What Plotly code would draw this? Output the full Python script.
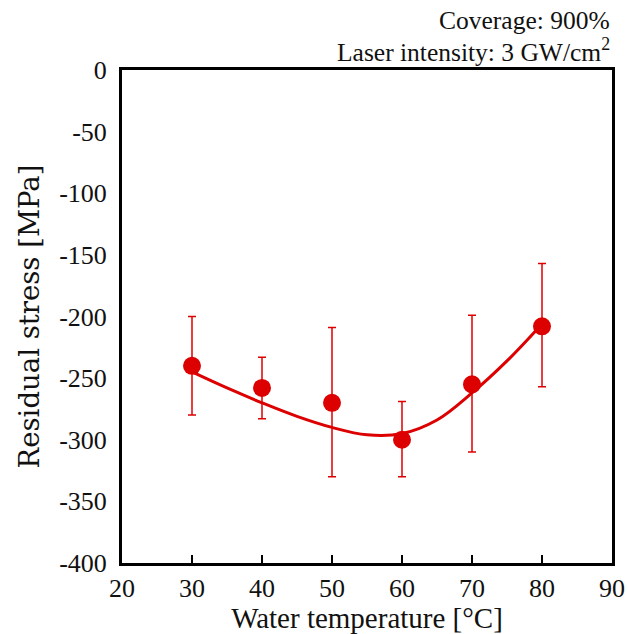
import plotly.graph_objects as go

temps = [30, 40, 50, 60, 70, 80]
stress = [-240, -258, -270, -300, -255, -208]
err_plus = [40, 25, 61, 31, 56, 51]
err_minus = [40, 25, 60, 30, 55, 49]

fit_x = [30, 35, 40, 45, 50, 55, 60, 65, 70, 75, 80]
fit_y = [-245, -258, -270, -281, -290, -296, -295, -284, -262, -236, -206]

y_ticks = [0, -50, -100, -150, -200, -250, -300, -350, -400]
y_ticktext = ["0", "-50", "-100", "-150", "-200", "-250", "-300", "-350", "-400"]
x_ticks = [20, 30, 40, 50, 60, 70, 80, 90]

red = "#dd0000"
font = "Liberation Serif"

fig = go.Figure()
fig.add_trace(go.Scatter(x=fit_x, y=fit_y, mode="lines", line=dict(color=red, width=3, shape="spline", smoothing=1.0), hoverinfo="skip", showlegend=False))
fig.add_trace(go.Scatter(
    x=temps, y=stress, mode="markers",
    marker=dict(color=red, size=18),
    error_y=dict(type="data", symmetric=False, array=err_plus, arrayminus=err_minus, color=red, thickness=1.5, width=4),
    showlegend=False))

fig.update_layout(
    width=628, height=634,
    margin=dict(l=122, r=16, t=70, b=71, autoexpand=False),
    paper_bgcolor="white", plot_bgcolor="white",
    font=dict(family=font, size=26, color="#111"),
    xaxis=dict(range=[20, 90], tickvals=x_ticks, showgrid=False, zeroline=False, automargin=False,
               showline=True, mirror=True, linecolor="black", linewidth=3,
               ticks="inside", ticklen=8, tickwidth=1.5, tickcolor="black",
               title=dict(text="Water temperature [°C]", font=dict(size=29), standoff=2)),
    yaxis=dict(range=[-400, 0], tickvals=y_ticks, ticktext=y_ticktext, showgrid=False, zeroline=False, automargin=False,
               showline=True, mirror=True, linecolor="black", linewidth=3,
               ticks="", ticklabelstandoff=7,
               title=dict(text="Residual stress [MPa]", font=dict(size=27.5, family="DejaVu Serif"), standoff=12)),
    annotations=[
        dict(text="Coverage: 900%", xref="paper", yref="paper", x=1.0, y=1.0, yshift=50,
             xanchor="right", yanchor="middle", showarrow=False, font=dict(size=25.5)),
        dict(text="Laser intensity: 3 GW/cm<sup>2</sup>", xref="paper", yref="paper", x=1.0, y=1.0, yshift=20,
             xanchor="right", yanchor="middle", showarrow=False, font=dict(size=25.5)),
    ],
)

fig.write_html("out.html")
